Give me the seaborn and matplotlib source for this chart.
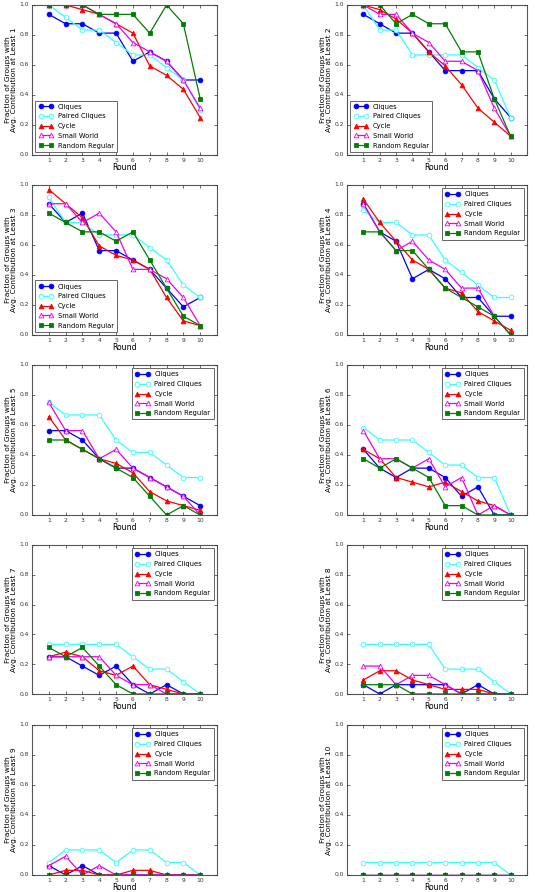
import matplotlib
matplotlib.use("Agg")
import matplotlib.pyplot as plt
import seaborn as sns

rounds = [1, 2, 3, 4, 5, 6, 7, 8, 9, 10]
thresholds = [1, 2, 3, 4, 5, 6, 7, 8, 9, 10]
series_names = ["Cliques", "Paired Cliques", "Cycle", "Small World", "Random Regular"]

# one row per threshold ("at least N"), one value per round
cliques = [
    [0.9375, 0.875, 0.875, 0.8125, 0.8125, 0.625, 0.6875, 0.625, 0.5, 0.5],
    [0.9375, 0.875, 0.8125, 0.8125, 0.6875, 0.5625, 0.5625, 0.5625, 0.375, 0.25],
    [0.875, 0.75, 0.8125, 0.5625, 0.5625, 0.5, 0.4375, 0.3125, 0.1875, 0.25],
    [0.875, 0.6875, 0.625, 0.375, 0.4375, 0.375, 0.25, 0.25, 0.125, 0.125],
    [0.5625, 0.5625, 0.5, 0.375, 0.3125, 0.3125, 0.25, 0.1875, 0.125, 0.0625],
    [0.4375, 0.3125, 0.25, 0.3125, 0.3125, 0.25, 0.125, 0.1875, 0.0, 0.0],
    [0.25, 0.25, 0.1875, 0.125, 0.1875, 0.0625, 0.0, 0.0625, 0.0, 0.0],
    [0.0625, 0.0, 0.0625, 0.0625, 0.0625, 0.0625, 0.0, 0.0625, 0.0, 0.0],
    [0.0625, 0.0, 0.0625, 0.0, 0.0, 0.0, 0.0, 0.0, 0.0, 0.0],
    [0.0, 0.0, 0.0, 0.0, 0.0, 0.0, 0.0, 0.0, 0.0, 0.0],
]
paired_cliques = [
    [1.0, 0.917, 0.833, 0.833, 0.75, 0.667, 0.667, 0.583, 0.5, 0.3],
    [1.0, 0.833, 0.833, 0.667, 0.667, 0.667, 0.667, 0.583, 0.5, 0.25],
    [0.917, 0.75, 0.75, 0.667, 0.667, 0.667, 0.583, 0.5, 0.333, 0.25],
    [0.833, 0.75, 0.75, 0.667, 0.667, 0.5, 0.417, 0.333, 0.25, 0.25],
    [0.75, 0.667, 0.667, 0.667, 0.5, 0.417, 0.417, 0.333, 0.25, 0.25],
    [0.583, 0.5, 0.5, 0.5, 0.417, 0.333, 0.333, 0.25, 0.25, 0.0],
    [0.333, 0.333, 0.333, 0.333, 0.333, 0.25, 0.167, 0.167, 0.083, 0.0],
    [0.333, 0.333, 0.333, 0.333, 0.333, 0.167, 0.167, 0.167, 0.083, 0.0],
    [0.083, 0.167, 0.167, 0.167, 0.083, 0.167, 0.167, 0.083, 0.083, 0.0],
    [0.083, 0.083, 0.083, 0.083, 0.083, 0.083, 0.083, 0.083, 0.083, 0.0],
]
cycle = [
    [1.0, 1.0, 0.969, 0.9375, 0.875, 0.8125, 0.594, 0.531, 0.4375, 0.25],
    [1.0, 0.969, 0.906, 0.8125, 0.6875, 0.594, 0.469, 0.3125, 0.219, 0.125],
    [0.969, 0.875, 0.781, 0.594, 0.531, 0.5, 0.4375, 0.25, 0.094, 0.0625],
    [0.906, 0.75, 0.625, 0.5, 0.4375, 0.3125, 0.281, 0.156, 0.094, 0.031],
    [0.656, 0.5, 0.4375, 0.375, 0.344, 0.281, 0.156, 0.094, 0.0625, 0.031],
    [0.4375, 0.375, 0.25, 0.219, 0.1875, 0.219, 0.156, 0.094, 0.0625, 0.0],
    [0.25, 0.281, 0.25, 0.156, 0.125, 0.1875, 0.0625, 0.031, 0.0, 0.0],
    [0.094, 0.156, 0.156, 0.094, 0.0625, 0.031, 0.031, 0.031, 0.0, 0.0],
    [0.0, 0.031, 0.031, 0.0, 0.0, 0.031, 0.031, 0.0, 0.0, 0.0],
    [0.0, 0.0, 0.0, 0.0, 0.0, 0.0, 0.0, 0.0, 0.0, 0.0],
]
small_world = [
    [1.0, 1.0, 1.0, 0.9375, 0.875, 0.75, 0.6875, 0.625, 0.5, 0.3125],
    [1.0, 0.9375, 0.9375, 0.8125, 0.75, 0.625, 0.625, 0.5625, 0.3125, 0.125],
    [0.875, 0.875, 0.75, 0.8125, 0.6875, 0.4375, 0.4375, 0.375, 0.25, 0.0625],
    [0.875, 0.6875, 0.5625, 0.625, 0.5, 0.4375, 0.3125, 0.3125, 0.125, 0.0],
    [0.75, 0.5625, 0.5625, 0.375, 0.4375, 0.3125, 0.25, 0.1875, 0.125, 0.0],
    [0.5625, 0.375, 0.375, 0.3125, 0.375, 0.1875, 0.25, 0.0, 0.0625, 0.0],
    [0.25, 0.25, 0.25, 0.25, 0.125, 0.0625, 0.0625, 0.0, 0.0, 0.0],
    [0.1875, 0.1875, 0.0625, 0.125, 0.125, 0.0625, 0.0, 0.0, 0.0, 0.0],
    [0.0625, 0.125, 0.0, 0.0625, 0.0, 0.0, 0.0, 0.0, 0.0, 0.0],
    [0.0, 0.0, 0.0, 0.0, 0.0, 0.0, 0.0, 0.0, 0.0, 0.0],
]
random_regular = [
    [1.0, 1.0, 1.0, 0.9375, 0.9375, 0.9375, 0.8125, 1.0, 0.875, 0.375],
    [1.0, 1.0, 0.875, 0.9375, 0.875, 0.875, 0.6875, 0.6875, 0.375, 0.125],
    [0.8125, 0.75, 0.6875, 0.6875, 0.625, 0.6875, 0.5, 0.3125, 0.125, 0.0625],
    [0.6875, 0.6875, 0.5625, 0.5625, 0.4375, 0.3125, 0.25, 0.1875, 0.125, 0.0],
    [0.5, 0.5, 0.4375, 0.375, 0.3125, 0.25, 0.125, 0.0, 0.0625, 0.0],
    [0.375, 0.3125, 0.375, 0.3125, 0.25, 0.0625, 0.0625, 0.0, 0.0, 0.0],
    [0.3125, 0.25, 0.3125, 0.1875, 0.0625, 0.0, 0.0, 0.0, 0.0, 0.0],
    [0.0625, 0.0625, 0.0625, 0.0, 0.0, 0.0, 0.0, 0.0, 0.0, 0.0],
    [0.0, 0.0, 0.0, 0.0, 0.0, 0.0, 0.0, 0.0, 0.0, 0.0],
    [0.0, 0.0, 0.0, 0.0, 0.0, 0.0, 0.0, 0.0, 0.0, 0.0],
]

all_series = [cliques, paired_cliques, cycle, small_world, random_regular]
colors = ["#0000ff", "#33ffff", "#ff0000", "#ee00ee", "#007f00"]
markers = ["o", "o", "^", "^", "s"]
filled = [True, False, True, False, True]

plt.style.use("classic")
plt.rcParams["font.family"] = ["DejaVu Sans"]

fig = plt.figure(figsize=(5.35, 8.92), dpi=100)
fig.patch.set_facecolor("white")

W, H = 535.0, 892.0
col_x = [(32, 185), (347, 180)]
row_y = [(5, 155), (185, 335), (365, 515), (545, 694), (725, 875)]

for i, n in enumerate(thresholds):
    r, c = divmod(i, 2)
    x0, w = col_x[c]
    top, bot = row_y[r]
    ax = fig.add_axes([x0 / W, 1 - bot / H, w / W, (bot - top) / H])
    for name, series, col, mk, fl in zip(series_names, all_series, colors, markers, filled):
        sns.lineplot(
            x=rounds, y=series[i], ax=ax, color=col, marker=mk,
            markersize=3.4, markeredgewidth=0.6, markeredgecolor=col,
            markerfacecolor=col if fl else "white", linewidth=0.9,
            label=name, legend=False, errorbar=None,
        )
    ax.set_xlim(0, 11)
    ax.set_ylim(0, 1.0)
    ax.set_xticks(rounds)
    ax.set_yticks([0.0, 0.2, 0.4, 0.6, 0.8, 1.0])
    ax.tick_params(labelsize=4.3, length=2.5, width=0.5, pad=2, colors="#333333")
    for sp in ax.spines.values():
        sp.set_linewidth(0.8)
        sp.set_color("#555555")
    ax.set_xlabel("Round", fontsize=5.6, labelpad=0.5)
    ax.set_ylabel("Fraction of Groups with\nAvg. Contribution at Least %d" % n,
                  fontsize=5.4, labelpad=2.0, linespacing=1.05)
    leg = ax.legend(loc="lower left" if n <= 3 else "upper right", fontsize=4.9,
                    numpoints=2, handlelength=2.2, borderpad=0.45, labelspacing=0.55,
                    handletextpad=0.6, borderaxespad=0.5)
    leg.get_frame().set_linewidth(0.7)
    leg.get_frame().set_edgecolor("#666666")

fig.savefig("out.png", dpi=100, facecolor="white")
